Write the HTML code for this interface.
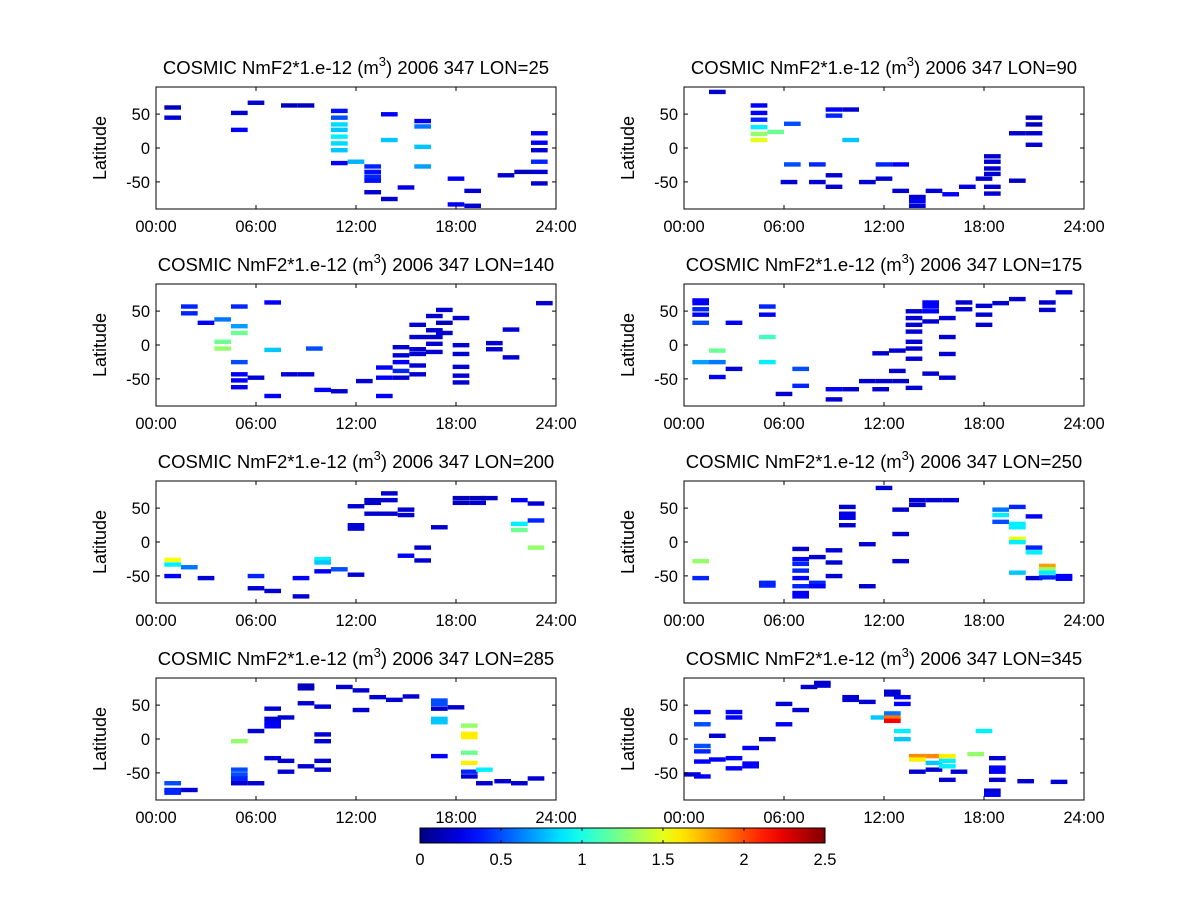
<!DOCTYPE html>
<html><head><meta charset="utf-8"><style>
body{margin:0;background:#fff;}
svg{display:block;font-family:"Liberation Sans",sans-serif;}
</style></head><body>
<svg id="fig" width="1200" height="900" viewBox="0 0 1200 900"></svg>
<script>
const tickHours=[0,6,12,18,24];
const tickHourLabels=["00:00","06:00","12:00","18:00","24:00"];
const tickLats=[-50,0,50];
const cbTicks=[0,0.5,1,1.5,2,2.5];
const panelLons=[25,90,140,175,200,250,285,345];

const p1Hours=[0.5,0.5,4.5,4.5,5.5,7.5,8.5,10.5,10.5,10.5,10.5,10.5,10.5,10.5,10.5,11.5,12.5,12.5,12.5,12.5,12.5,13.5,13.5,13.5,14.5,15.5,15.5,15.5,15.5,17.5,17.5,18.5,18.5,20.5,21.5,22.5,22.5,22.5,22.5,22.5,22.5];
const p1Lats=[60,45,52,27,67,63,63,55,45,35,27,17,7,-3,-22,-20,-27,-35,-42,-48,-65,50,12,-75,-58,40,32,2,-27,-45,-83,-63,-85,-40,-35,22,8,-3,-20,-35,-52];
const p1Vals=[0.15,0.2,0.2,0.3,0.2,0.15,0.15,0.35,0.5,0.85,0.8,0.9,0.85,0.8,0.3,0.75,0.4,0.35,0.4,0.35,0.2,0.3,0.8,0.2,0.25,0.3,0.6,0.8,0.7,0.3,0.3,0.2,0.2,0.2,0.15,0.3,0.3,0.2,0.4,0.2,0.2];

const p2Hours=[1.5,4.0,4.0,4.0,4.0,4.0,4.0,5.0,6.0,6.0,5.8,7.5,7.5,8.5,8.5,8.5,8.5,9.5,9.5,10.5,11.5,11.5,12.5,12.5,13.5,13.5,13.5,14.5,15.5,16.5,17.5,18,18,18,18,18,18,19.5,19.5,20.5,20.5,20.5,20.5];
const p2Lats=[83,63,52,42,31,21,12,24,36,-24,-50,-50,-24,57,48,-40,-57,57,12,-50,-24,-45,-63,-24,-72,-78,-85,-63,-68,-57,-45,-12,-20,-30,-38,-57,-67,22,-48,45,35,22,5];
const p2Vals=[0.2,0.3,0.3,0.4,0.9,1.3,1.5,1.2,0.5,0.5,0.2,0.2,0.4,0.3,0.4,0.2,0.2,0.2,0.8,0.2,0.4,0.2,0.2,0.3,0.2,0.3,0.2,0.2,0.3,0.25,0.2,0.2,0.2,0.2,0.2,0.2,0.2,0.2,0.15,0.15,0.15,0.2,0.2];

const p3Hours=[1.5,1.5,2.5,3.5,3.5,3.5,4.5,4.5,4.5,4.5,4.5,4.5,4.5,5.5,6.5,6.5,6.5,7.5,8.5,9,9.5,10.5,12,13.2,13.2,13.2,14.2,14.2,14.2,14.2,14.2,15.2,15.2,15.2,15.2,15.2,15.2,16.2,16.2,16.2,16.2,16.2,16.8,16.8,16.8,17.8,17.8,17.8,17.8,17.8,17.8,19.8,19.8,20.8,20.8,22.8];
const p3Lats=[57,47,33,38,5,-5,57,28,18,-25,-43,-52,-62,-48,63,-7,-75,-43,-43,-5,-66,-68,-53,-33,-48,-75,-3,-15,-25,-38,-48,30,12,-6,-13,-30,-43,43,22,12,2,-10,52,33,18,40,0,-13,-32,-45,-55,3,-6,23,-18,62];
const p3Vals=[0.4,0.4,0.3,0.6,1.2,1.3,0.4,0.7,1.2,0.5,0.3,0.3,0.3,0.2,0.3,0.8,0.3,0.2,0.2,0.5,0.3,0.2,0.2,0.3,0.3,0.3,0.2,0.2,0.3,0.4,0.2,0.2,0.2,0.2,0.2,0.2,0.2,0.2,0.2,0.2,0.2,0.2,0.2,0.15,0.2,0.2,0.2,0.2,0.2,0.2,0.2,0.2,0.2,0.2,0.2,0.2];

const p4Hours=[0.5,0.5,0.5,0.5,0.5,0.5,1.5,1.5,1.5,2.5,2.5,4.5,4.5,4.5,4.5,5.5,6.5,6.5,8.5,8.5,9.5,10.5,11.5,12.5,11.3,11.3,12.3,12.3,13.3,13.3,13.3,13.3,13.3,13.3,13.3,13.3,14.3,14.3,14.3,14.3,14.3,15.3,15.3,15.3,15.3,16.3,16.3,17.5,17.5,17.5,18.5,19.5,21.3,21.3,22.3];
const p4Lats=[66,62,53,45,33,-25,-8,-25,-47,33,-35,57,45,12,-25,-72,-35,-60,-65,-80,-65,-53,-53,-53,-12,-65,-8,-38,50,40,30,20,5,-5,-20,-63,63,57,50,35,-42,40,12,-13,-48,63,53,58,45,30,62,68,63,52,78];
const p4Vals=[0.3,0.3,0.4,0.3,0.5,0.7,1.2,0.6,0.3,0.3,0.2,0.4,0.3,1.1,0.9,0.2,0.5,0.4,0.3,0.2,0.2,0.2,0.2,0.2,0.2,0.2,0.2,0.2,0.2,0.2,0.2,0.2,0.2,0.2,0.2,0.2,0.3,0.3,0.3,0.2,0.2,0.2,0.2,0.2,0.2,0.2,0.2,0.2,0.2,0.2,0.2,0.2,0.2,0.2,0.2];

const p5Hours=[0.5,0.5,0.5,1.5,2.5,5.5,5.5,6.5,8.2,8.2,9.5,9.5,9.5,10.5,11.5,11.5,11.5,11.5,12.5,12.5,12.5,13.5,13.5,13.5,14.5,14.5,14.5,15.5,15.5,16.5,17.8,17.8,18.8,18.8,19.5,21.3,21.3,21.3,22.3,22.3,22.3];
const p5Lats=[-26,-33,-50,-37,-53,-50,-68,-72,-53,-80,-25,-30,-43,-40,-48,20,25,53,62,58,42,72,62,42,48,40,-20,-8,-27,22,65,58,65,58,65,62,27,18,57,32,-8];
const p5Vals=[1.55,0.9,0.3,0.6,0.2,0.4,0.2,0.2,0.3,0.2,0.9,0.8,0.3,0.5,0.2,0.2,0.2,0.2,0.15,0.2,0.2,0.2,0.2,0.2,0.2,0.2,0.3,0.2,0.2,0.2,0.15,0.15,0.15,0.2,0.15,0.3,0.9,1.2,0.2,0.4,1.3];

const p6Hours=[0.5,0.5,4.5,4.5,6.5,6.5,6.5,6.5,6.5,6.5,6.5,6.5,7.5,7.5,7.5,8.5,8.5,8.5,9.3,9.3,9.3,9.3,10.5,10.5,11.5,12.5,12.5,12.5,13.5,13.5,14.5,15.5,18.5,18.5,18.5,19.5,19.5,19.5,19.5,19.5,19.5,20.5,20.5,20.5,20.5,21.3,21.3,21.3,21.3,22.3,22.3];
const p6Lats=[-28,-53,-60,-64,-10,-25,-32,-42,-53,-65,-75,-80,-22,-60,-65,-12,-30,-50,25,36,42,52,-3,-65,80,48,12,-28,55,62,62,62,48,40,30,52,27,22,5,0,-45,38,-8,-15,-53,-35,-40,-45,-52,-50,-54];
const p6Vals=[1.3,0.4,0.4,0.4,0.2,0.3,0.4,0.4,0.3,0.4,0.3,0.3,0.2,0.4,0.3,0.2,0.2,0.2,0.2,0.25,0.25,0.2,0.2,0.2,0.2,0.2,0.2,0.2,0.2,0.2,0.2,0.2,0.6,0.9,0.5,0.4,0.9,0.9,1.5,0.9,0.8,0.3,0.4,0.9,0.2,1.8,1.3,0.9,0.4,0.3,0.3];

const p7Hours=[0.5,0.5,0.5,1.5,4.5,4.5,4.5,4.5,4.5,4.5,5.5,5.5,6.5,6.5,6.5,6.5,6.5,7.3,7.3,7.3,8.5,8.5,8.5,8.5,9.5,9.5,9.5,9.5,9.5,10.8,11.8,11.8,12.8,13.8,14.8,16.5,16.5,16.5,16.5,16.5,16.5,17.5,18.3,18.3,18.3,18.3,18.3,18.3,18.3,19.2,19.2,20.3,21.3,22.3];
const p7Lats=[-65,-75,-79,-75,-3,-45,-52,-58,-63,-65,12,-65,45,30,24,19,-28,32,-32,-48,79,75,53,-40,48,7,-3,-32,-45,77,72,43,62,58,63,57,52,45,30,25,-25,47,20,8,3,-20,-35,-48,-55,-45,-65,-62,-65,-58];
const p7Vals=[0.5,0.4,0.4,0.2,1.3,0.5,0.5,0.4,0.4,0.2,0.2,0.2,0.2,0.2,0.3,0.3,0.2,0.2,0.2,0.2,0.15,0.15,0.2,0.2,0.2,0.2,0.2,0.2,0.2,0.2,0.2,0.2,0.2,0.2,0.2,0.5,0.5,0.2,0.8,0.8,0.3,0.2,1.3,1.6,1.6,1.2,1.6,0.4,0.2,0.9,0.2,0.2,0.2,0.2];

const p8Hours=[0,0.6,0.6,0.6,0.6,0.6,0.6,1.5,1.5,2.5,2.5,2.5,2.5,3.5,3.5,3.5,4.5,5.5,5.5,6.5,7.0,7.8,7.8,9.5,9.5,10.5,11.2,12,12,12,12,12,12.6,12.6,12.6,12.6,13.5,13.5,13.5,14.5,14.5,14.5,15.3,15.3,15.3,15.3,16,17.5,17.0,18.3,18.3,18.3,18.3,18.0,18.0,20,22];
const p8Lats=[-52,40,22,-10,-18,-33,-55,5,-30,40,32,-28,-43,-13,-40,-36,0,22,52,43,77,83,79,62,58,55,32,70,66,38,32,27,62,52,12,0,-48,-25,-30,-25,-35,-45,-25,-32,-40,-60,-48,12,-22,-28,-42,-48,-60,-76,-82,-62,-63];
const p8Vals=[0.2,0.3,0.5,0.5,0.4,0.3,0.3,0.2,0.3,0.3,0.3,0.3,0.3,0.3,0.3,0.3,0.2,0.3,0.2,0.2,0.2,0.2,0.2,0.2,0.2,0.2,0.8,0.2,0.2,0.6,1.9,2.2,0.3,0.3,0.9,0.8,0.2,1.85,1.6,1.85,0.8,0.2,1.6,0.9,0.9,0.2,0.2,0.9,1.3,0.2,0.3,0.3,0.2,0.2,0.3,0.2,0.2];

const allHours=[p1Hours,p2Hours,p3Hours,p4Hours,p5Hours,p6Hours,p7Hours,p8Hours];
const allLats=[p1Lats,p2Lats,p3Lats,p4Lats,p5Lats,p6Lats,p7Lats,p8Lats];
const allVals=[p1Vals,p2Vals,p3Vals,p4Vals,p5Vals,p6Vals,p7Vals,p8Vals];

const NS='http://www.w3.org/2000/svg';
const svg=document.getElementById('fig');
function mk(tag,attrs,parent){const e=document.createElementNS(NS,tag);for(const k in attrs)e.setAttribute(k,attrs[k]);(parent||svg).appendChild(e);return e;}
function jet(v){let t=Math.max(0,Math.min(1,v/2.5));
 const f=(x)=>Math.max(0,Math.min(1,1.5-Math.abs(4*t-x)));
 const r=f(3),g=f(2),b=f(1);
 return 'rgb('+Math.round(r*255)+','+Math.round(g*255)+','+Math.round(b*255)+')';}

const lefts=[156,684], tops=[87,284,481,678], W=400, H=122;
for(let p=0;p<8;p++){
 const x0=lefts[p%2], y0=tops[Math.floor(p/2)];
 const xs=h=>x0+h/24*W, ys=l=>y0+(90-l)/180*H;
 const g=mk('g',{});
 
 
 const t=mk('text',{x:x0+W/2,y:y0-13,'text-anchor':'middle','font-size':'18.5'},g);
 
 
 t.innerHTML='COSMIC NmF2*1.e-12 (m<tspan dy="-8" font-size="13">3</tspan><tspan dy="8">) 2006 347 LON='+panelLons[p]+'</tspan>';
 mk('rect',{x:x0,y:y0,width:W,height:H,fill:'#fff'},g);
 const hs=allHours[p], ls=allLats[p], vs=allVals[p];
 for(let i=0;i<hs.length;i++){
  const r=mk('rect',{x:xs(hs[i]),y:ys(ls[i]+3),width:xs(hs[i]+1)-xs(hs[i]),height:ys(0)-ys(6.5),fill:jet(vs[i])},g);
  
  
 }
 const b=mk('rect',{x:x0,y:y0,width:W,height:H,fill:'none',stroke:'#000','stroke-width':1},g);
 
 
 tickHours.forEach((h,i)=>{
  mk('line',{x1:xs(h),x2:xs(h),y1:y0+H,y2:y0+H-4,stroke:'#000'},g);
  mk('line',{x1:xs(h),x2:xs(h),y1:y0,y2:y0+4,stroke:'#000'},g);
  const tl=mk('text',{x:xs(h),y:y0+H+23,'text-anchor':'middle','font-size':'16.5'},g);
  
  
  tl.textContent=tickHourLabels[i];
 });
 tickLats.forEach(l=>{
  mk('line',{x1:x0,x2:x0+4,y1:ys(l),y2:ys(l),stroke:'#000'},g);
  mk('line',{x1:x0+W,x2:x0+W-4,y1:ys(l),y2:ys(l),stroke:'#000'},g);
  const tl=mk('text',{x:x0-6,y:ys(l)+6,'text-anchor':'end','font-size':'16.5'},g);
  
  
  tl.textContent=l;
 });
 const yl=mk('text',{x:0,y:0,'text-anchor':'middle','font-size':'18',transform:'translate('+(x0-50)+','+(y0+H/2)+') rotate(-90)'},g);
 
 
 yl.textContent='Latitude';
}
// colorbar
const cb=mk('g',{});


const cx0=420,cx1=825,cy=828,ch=15;
const defs=mk('defs',{},cb);
const lg=mk('linearGradient',{id:'jetg',x1:'0',x2:'1',y1:'0',y2:'0'},defs);
for(let i=0;i<=20;i++){mk('stop',{offset:(i/20),'stop-color':jet(i/20*2.5)},lg);}
mk('rect',{x:cx0,y:cy,width:cx1-cx0,height:ch,fill:'url(#jetg)',stroke:'#000'},cb);
cbTicks.forEach(v=>{
 const x=cx0+v/2.5*(cx1-cx0);
 mk('line',{x1:x,x2:x,y1:cy,y2:cy+3,stroke:'#000'},cb);
 mk('line',{x1:x,x2:x,y1:cy+ch,y2:cy+ch-3,stroke:'#000'},cb);
 const tl=mk('text',{x:x,y:cy+ch+22,'text-anchor':'middle','font-size':'16.5'},cb);
 
 
 tl.textContent=v;
});
</script>
</body></html>
